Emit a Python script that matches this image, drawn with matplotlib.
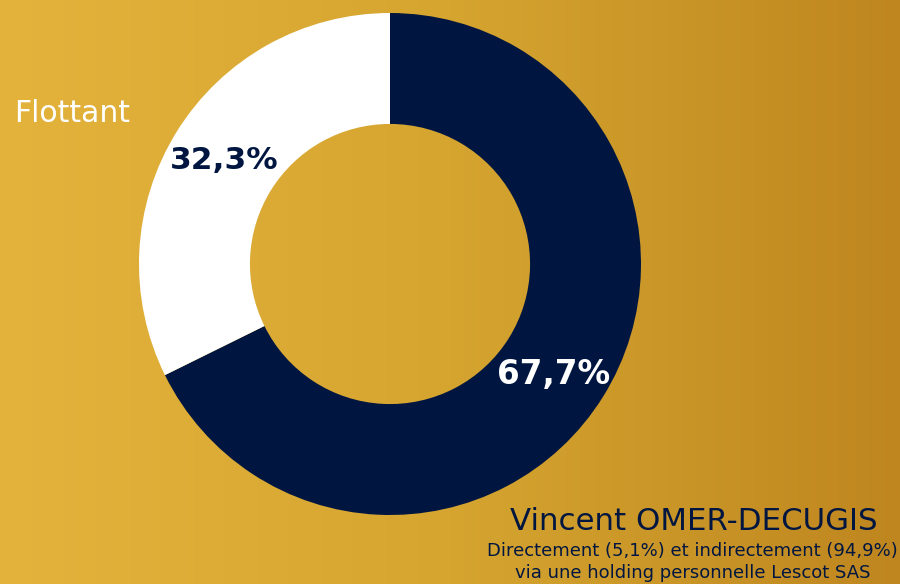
import numpy as np
import matplotlib
matplotlib.use('Agg')
import matplotlib.pyplot as plt
from matplotlib.colors import LinearSegmentedColormap

plt.rcParams['font.family'] = ['DejaVu Sans']

# données
labels = ['Vincent OMER-DECUGIS', 'Flottant']
values = [67.7, 32.3]
colors = ['#001640', '#ffffff']
pct_colors = ['#ffffff', '#001640']

navy = '#001640'

fig = plt.figure(figsize=(9, 5.84), dpi=100)

# fond dégradé
bg = fig.add_axes([0, 0, 1, 1])
grad = np.linspace(0, 1, 900).reshape(1, -1)
cmap = LinearSegmentedColormap.from_list('gold', ['#e4b33c', '#d5a530', '#bf861f'], N=1024)
bg.imshow(grad, aspect='auto', cmap=cmap, extent=[0, 1, 0, 1], interpolation='bilinear')
bg.axis('off')

# anneau
ax = fig.add_axes([139 / 900, 69 / 584, 502 / 900, 502 / 584])
wedges, texts, autotexts = ax.pie(
    values, colors=colors, startangle=90, counterclock=False,
    radius=1, wedgeprops=dict(width=0.442, linewidth=0),
    autopct=lambda p: f'{p:.1f}%'.replace('.', ','), pctdistance=0.78)
for t, c in zip(autotexts, pct_colors):
    t.set_color(c)
    t.set_fontweight('bold')
autotexts[0].set_fontsize(23.5)
autotexts[1].set_fontsize(22.5)
autotexts[0].set_position((0.65, -0.44))
ax.set_xlim(-1, 1)
ax.set_ylim(-1, 1)
ax.set_aspect('equal')
ax.axis('off')

# légendes
fig.text(72 / 900, 1 - 113 / 584, labels[1], color='white', fontsize=21.5,
         ha='center', va='center')
fig.text(693.5 / 900, 1 - 522 / 584, labels[0], color=navy, fontsize=22.2,
         ha='center', va='center')
fig.text(692.5 / 900, 1 - 551 / 584, 'Directement (5,1%) et indirectement (94,9%)',
         color=navy, fontsize=13, ha='center', va='center')
fig.text(692.5 / 900, 1 - 573 / 584, 'via une holding personnelle Lescot SAS',
         color=navy, fontsize=13, ha='center', va='center')

fig.savefig('out.png', dpi=100)
